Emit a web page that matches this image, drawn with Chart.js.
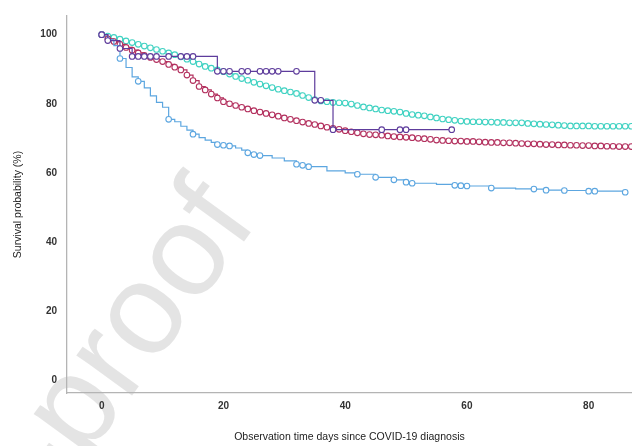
<!DOCTYPE html>
<html>
<head>
<meta charset="utf-8">
<script src="https://cdn.jsdelivr.net/npm/chart.js@4.4.1/dist/chart.umd.min.js"></script>
<style>
  html, body { margin: 0; padding: 0; background: #fff; }
  #wrap { width: 637px; height: 446px; position: relative; }
</style>
</head>
<body>
<div id="wrap"><canvas id="km"></canvas></div>
<script>
// days with censoring marks for the two dense curves
const denseDays = [0, 1, 2, 3, 4, 5, 6, 7, 8, 9, 10, 11, 12, 13, 14, 15, 16, 17, 18, 19,
  20, 21, 22, 23, 24, 25, 26, 27, 28, 29, 30, 31, 32, 33, 34, 35, 36, 37, 38, 39,
  40, 41, 42, 43, 44, 45, 46, 47, 48, 49, 50, 51, 52, 53, 54, 55, 56, 57, 58, 59,
  60, 61, 62, 63, 64, 65, 66, 67, 68, 69, 70, 71, 72, 73, 74, 75, 76, 77, 78, 79,
  80, 81, 82, 83, 84, 85, 86, 87];

const cyanSurv = [100, 99.6, 99.2, 98.7, 98.2, 97.7, 97.2, 96.7, 96.2, 95.7, 95.2, 94.7, 94.2, 93.6, 92.9, 92.2, 91.5, 90.8, 90.3, 89.8,
  89.3, 88.6, 87.9, 87.3, 86.8, 86.2, 85.7, 85.2, 84.7, 84.2, 83.8, 83.4, 83, 82.4, 81.8, 81.2, 80.8, 80.6, 80.4, 80.3,
  80.2, 79.9, 79.5, 79.1, 78.8, 78.5, 78.2, 78, 77.8, 77.6, 77.2, 76.9, 76.7, 76.5, 76.2, 75.9, 75.6, 75.4, 75.2, 75,
  74.9, 74.8, 74.8, 74.7, 74.7, 74.6, 74.6, 74.5, 74.5, 74.5, 74.3, 74.2, 74.1, 74, 73.9, 73.8, 73.7, 73.6, 73.6, 73.6,
  73.6, 73.5, 73.5, 73.5, 73.5, 73.5, 73.5, 73.5];

const crimsonSurv = [100, 98.8, 98, 97.2, 96.3, 95.5, 94.7, 94, 93.4, 92.8, 92.2, 91.4, 90.6, 89.8, 88.3, 86.7, 85, 84, 82.8, 81.7,
  80.6, 80, 79.5, 79, 78.5, 78, 77.6, 77.2, 76.8, 76.4, 75.9, 75.5, 75.1, 74.7, 74.3, 74, 73.6, 73.2, 72.9, 72.6,
  72.2, 71.9, 71.6, 71.3, 71.1, 71, 70.9, 70.7, 70.5, 70.4, 70.3, 70.2, 70, 69.9, 69.7, 69.5, 69.4, 69.3, 69.2, 69.2,
  69.1, 69.1, 69, 68.9, 68.8, 68.8, 68.7, 68.7, 68.6, 68.5, 68.4, 68.4, 68.3, 68.2, 68.2, 68.1, 68.1, 68, 68, 67.9,
  67.9, 67.8, 67.8, 67.7, 67.7, 67.6, 67.6, 67.6];

const blueDays = [0, 1, 2, 3, 4, 5, 6, 7, 8, 9, 10, 11, 12, 13, 14, 15, 16, 17, 18, 19, 20, 21, 22, 23, 24, 25, 26,
  28, 30, 32, 33, 34, 37, 40, 42, 45, 48, 50, 51, 55, 58, 59, 60, 64, 68, 71, 73, 76, 80, 81, 86];
const blueSurv = [100, 98.6, 96.8, 93.1, 90.5, 87.8, 86.5, 84.6, 82.3, 80.4, 79, 75.5, 74.8, 73.5, 72.4, 71.2, 70.2, 69.5, 68.8, 68.2, 68, 67.8, 67.2, 66.6, 65.8, 65.3, 65,
  64.3, 63.5, 62.5, 62.2, 61.8, 60.6, 60, 59.6, 58.7, 58, 57.3, 57, 56.7, 56.4, 56.3, 56.2, 55.6, 55.4, 55.3, 55, 54.9, 54.7, 54.7, 54.4];
const blueCensored = [0, 3, 6, 11, 15, 19, 20, 21, 24, 25, 26, 32, 33, 34, 42, 45, 48, 50, 51, 58, 59, 60, 64, 71, 73, 76, 80, 81, 86];

const purpleDays = [0, 1, 3, 5, 6, 7, 8, 9, 11, 13, 14, 15, 19, 20, 21, 23, 24, 26, 27, 28, 29, 32, 35, 36, 38, 46, 49, 50, 57.5];
const purpleSurv = [100, 98.3, 96, 93.7, 93.7, 93.7, 93.7, 93.7, 93.7, 93.7, 93.7, 93.7, 89.4, 89.4, 89.4, 89.4, 89.4, 89.4, 89.4, 89.4, 89.4, 89.4,
  81, 81, 72.5, 72.5, 72.5, 72.5, 72.5];

const xTicks = [0, 20, 40, 60, 80];
const yTicks = [0, 20, 40, 60, 80, 100];

const pts = (xs, ys) => xs.map((x, i) => ({ x: x, y: ys[i] }));

// faint "proof" stamp behind the curves
const watermark = {
  id: 'watermark',
  beforeDraw(chart) {
    const ctx = chart.ctx;
    ctx.save();
    ctx.translate(-60, 660);
    ctx.rotate(-54 * Math.PI / 180);
    ctx.font = '130px "Liberation Sans", Arial, sans-serif';
    ctx.fillStyle = 'rgba(205,205,205,0.55)';
    ctx.fillText('Pre-proof', 0, 0);
    ctx.restore();
  }
};

const series = (label, data, color, extra) => Object.assign({
  label: label,
  data: data,
  borderColor: color,
  borderWidth: 1.2,
  stepped: true,
  pointRadius: 2.8,
  pointBorderWidth: 1.1,
  pointBorderColor: color,
  pointBackgroundColor: '#fff',
  fill: false
}, extra || {});

const tickFont = { family: '"Liberation Sans", Arial, sans-serif', size: 10, weight: 'bold' };

new Chart(document.getElementById('km').getContext('2d'), {
  type: 'line',
  data: {
    datasets: [
      series('Group 4', pts(purpleDays, purpleSurv), '#5e3c9c'),
      series('Group 3', pts(blueDays, blueSurv), '#5ca6e0', {
        pointRadius: c => blueCensored.includes(blueDays[c.dataIndex]) ? 2.8 : 0
      }),
      series('Group 2', pts(denseDays, crimsonSurv), '#b3305e'),
      series('Group 1', pts(denseDays, cyanSurv), '#40d2c2')
    ]
  },
  plugins: [watermark],
  options: {
    responsive: true,
    maintainAspectRatio: false,
    animation: false,
    layout: { padding: { top: 12, right: 0, left: 0, bottom: 0 } },
    plugins: { legend: { display: false }, tooltip: { enabled: false } },
    scales: {
      x: {
        type: 'linear',
        min: -5.7,
        max: 87.1,
        afterBuildTicks: s => { s.ticks = xTicks.map(v => ({ value: v })); },
        afterFit: s => { s.height = 53; },
        grid: { drawOnChartArea: false, drawTicks: false },
        border: { color: '#b4b4b4', width: 1.3 },
        ticks: { color: '#333', font: tickFont, padding: 7, maxRotation: 0 },
        title: {
          display: true,
          text: 'Observation time days since COVID-19 diagnosis',
          color: '#222',
          font: { family: '"Liberation Sans", Arial, sans-serif', size: 10.5 },
          padding: { top: 0, bottom: 3 }
        }
      },
      y: {
        min: -3.7,
        max: 105.4,
        afterBuildTicks: s => { s.ticks = yTicks.map(v => ({ value: v })); },
        afterFit: s => { s.width = 67; },
        grid: { drawOnChartArea: false, drawTicks: false },
        border: { color: '#b4b4b4', width: 1.3 },
        ticks: { color: '#333', font: tickFont, padding: 10 },
        title: {
          display: true,
          text: 'Survival probability (%)',
          color: '#222',
          font: { family: '"Liberation Sans", Arial, sans-serif', size: 10.5 },
          padding: { top: 12, bottom: 0 }
        }
      }
    }
  }
});
</script>
</body>
</html>
